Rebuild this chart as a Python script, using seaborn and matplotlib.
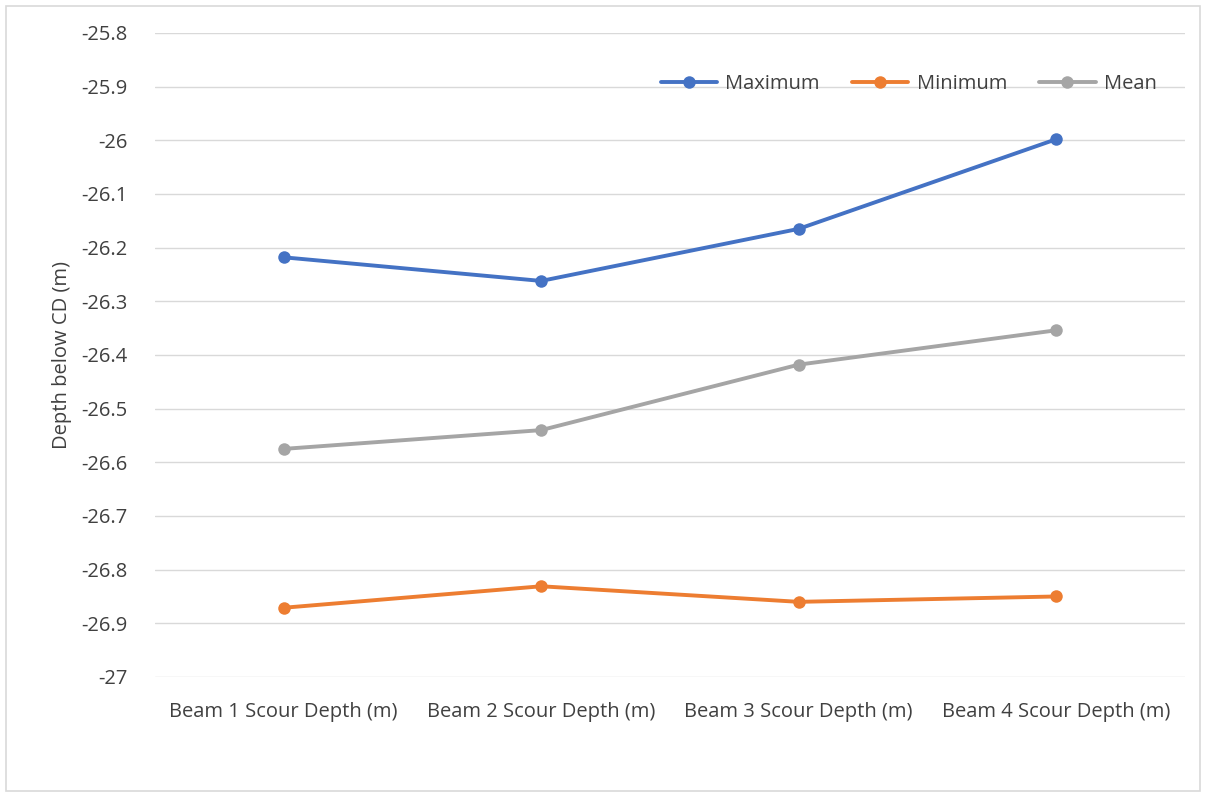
import pandas as pd
import numpy as np
import matplotlib.pyplot as plt
import seaborn as sns

categories = ["Beam 1 Scour Depth (m)", "Beam 2 Scour Depth (m)",
              "Beam 3 Scour Depth (m)", "Beam 4 Scour Depth (m)"]
maximum = [-26.218, -26.262, -26.165, -25.998]
minimum = [-26.871, -26.831, -26.860, -26.850]
mean = [-26.575, -26.540, -26.418, -26.354]

series_names = ["Maximum", "Minimum", "Mean"]
palette = {"Maximum": "#4472C4", "Minimum": "#ED7D31", "Mean": "#A5A5A5"}

rows = []
for name, vals in zip(series_names, [maximum, minimum, mean]):
    for i, v in enumerate(vals):
        rows.append({"pos": i, "Category": categories[i], "Series": name, "Depth": v})
df = pd.DataFrame(rows)

sns.set_style("white")
plt.rcParams["font.family"] = ["Open Sans", "DejaVu Sans"]

fig = plt.figure(figsize=(12.06, 7.97), dpi=100)
ax = fig.add_axes([0.1285, 0.1506, 0.854, 0.808])

sns.lineplot(data=df, x="pos", y="Depth", hue="Series", hue_order=series_names,
             palette=palette, marker="o", markersize=9, markeredgewidth=0,
             linewidth=2.8, ax=ax)

yt = np.round(np.arange(-27.0, -25.79, 0.1), 1)
ax.set_xlim(-0.5, 3.5)
ax.set_ylim(-27.0, -25.8)
ax.set_yticks(yt)
ax.set_yticklabels([("%g" % t) for t in yt], fontsize=14.5, color="#404040")
ax.set_xticks(range(len(categories)))
ax.set_xticklabels(categories, fontsize=14.5, color="#404040")
ax.tick_params(axis="y", length=0, pad=20)
ax.tick_params(axis="x", length=0, pad=18)
ax.grid(axis="y", color="#D9D9D9", linewidth=1)
ax.set_axisbelow(True)
for s in ax.spines.values():
    s.set_visible(False)
ax.set_xlabel("")
ax.set_ylabel("Depth below CD (m)", fontsize=14.5, color="#404040", labelpad=6)

ax.legend(loc="upper right", bbox_to_anchor=(0.99, 0.965), ncol=3, frameon=False,
          fontsize=14.5, handlelength=2.8, columnspacing=1.6, handletextpad=0.4,
          labelcolor="#404040")

fig.patches.append(plt.Rectangle((0.005, 0.007), 0.99, 0.986, transform=fig.transFigure,
                                 fill=False, edgecolor="#D9D9D9", linewidth=1.2))

fig.savefig("out.png", dpi=100)
